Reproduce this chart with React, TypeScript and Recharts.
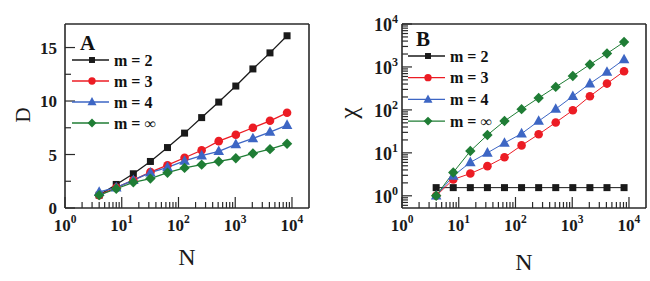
import React from 'react';
import { LineChart, Line, XAxis, YAxis, Legend } from 'recharts';

// ---- data ----
const N_VALUES = [4, 8, 16, 32, 64, 128, 256, 512, 1024, 2048, 4096, 8192];
const SERIES_NAMES = ['m = 2', 'm = 3', 'm = 4', 'm = \u221E'];

const D_M2 = [1.2, 2.2, 3.2, 4.35, 5.65, 7.0, 8.45, 9.9, 11.4, 13.0, 14.5, 16.1];
const D_M3 = [1.2, 1.9, 2.6, 3.35, 4.0, 4.7, 5.4, 6.25, 6.85, 7.5, 8.15, 8.9];
const D_M4 = [1.5, 1.9, 2.6, 3.3, 3.8, 4.4, 4.9, 5.3, 5.95, 6.5, 7.1, 7.75];
const D_MINF = [1.2, 1.8, 2.4, 2.75, 3.3, 3.75, 4.05, 4.35, 4.65, 5.1, 5.5, 6.0];

const CHI_M2 = [1.55, 1.55, 1.55, 1.55, 1.55, 1.55, 1.55, 1.55, 1.55, 1.55, 1.55, 1.55];
const CHI_M3 = [1.0, 2.4, 3.3, 4.9, 7.9, 14.9, 27, 51, 98, 208, 410, 795];
const CHI_M4 = [1.0, 2.9, 6.0, 10, 17, 28, 55, 105, 208, 410, 765, 1490];
const CHI_MINF = [1.0, 3.5, 11, 26, 55, 104, 190, 343, 617, 1140, 2050, 3800];

const X_MAJOR = [1, 10, 100, 1000, 10000];
const X_EXPONENTS = ['0', '1', '2', '3', '4'];
const D_TICKS = [0, 2.5, 5, 7.5, 10, 12.5, 15];
const D_LABELED = [0, 5, 10, 15];
const CHI_MAJOR = [1, 10, 100, 1000, 10000];
const CHI_EXPONENTS = ['0', '1', '2', '3', '4'];

const X_DOMAIN = [1, 19953];
const D_DOMAIN = [0, 17.2];
const CHI_DOMAIN = [0.52, 10000];

// ---- style ----
const KEYS = ['m2', 'm3', 'm4', 'minf'];
const COLORS: Record<string, string> = { m2: '#1a1a1a', m3: '#ec1c24', m4: '#3d66c4', minf: '#1f7d35' };
const SHAPES: Record<string, string> = { m2: 'square', m3: 'circle', m4: 'triangle', minf: 'diamond' };
const SERIF = '"Liberation Serif", "Times New Roman", serif';
const AXIS_COLOR = '#2a2a2a';

const W = 325;
const H = 281;

const leftData = N_VALUES.map((n, i) => ({ N: n, m2: D_M2[i], m3: D_M3[i], m4: D_M4[i], minf: D_MINF[i] }));
const rightData = N_VALUES.map((n, i) => ({ N: n, m2: CHI_M2[i], m3: CHI_M3[i], m4: CHI_M4[i], minf: CHI_MINF[i] }));

function logTicks(majors: number[], lo: number) {
  const out: number[] = [];
  majors.forEach((d, i) => {
    out.push(d);
    if (i < majors.length - 1) for (let k = 2; k <= 9; k++) out.push(k * d);
  });
  const below: number[] = [];
  for (let k = 2; k <= 9; k++) {
    const v = (k * majors[0]) / 10;
    if (v >= lo) below.push(v);
  }
  return [...below, ...out];
}

const X_TICKS = logTicks(X_MAJOR, 1);
const CHI_TICKS = logTicks(CHI_MAJOR, CHI_DOMAIN[0]);

function Marker({ kind, cx, cy, color, s = 1 }: any) {
  if (cx == null || cy == null) return null;
  if (kind === 'square') {
    const a = 7 * s;
    return <rect x={cx - a / 2} y={cy - a / 2} width={a} height={a} fill={color} />;
  }
  if (kind === 'circle') return <circle cx={cx} cy={cy} r={4.3 * s} fill={color} />;
  if (kind === 'triangle') {
    const w = 5.3 * s;
    return (
      <polygon
        points={`${cx},${cy - 5.8 * s} ${cx - w},${cy + 3.8 * s} ${cx + w},${cy + 3.8 * s}`}
        fill={color}
      />
    );
  }
  const r = 5.2 * s;
  return <polygon points={`${cx},${cy - r} ${cx + r},${cy} ${cx},${cy + r} ${cx - r},${cy}`} fill={color} />;
}

const dotFor = (key: string) => (p: any) => (
  <Marker key={`dot-${key}-${p.index}`} kind={SHAPES[key]} cx={p.cx} cy={p.cy} color={COLORS[key]} />
);

function XTick(props: any) {
  const { x, y, payload } = props;
  const v = payload.value;
  const mi = X_MAJOR.indexOf(v);
  const major = mi >= 0;
  return (
    <g>
      <line x1={x} x2={x} y1={y} y2={y - (major ? 11 : 6)} stroke={AXIS_COLOR} strokeWidth={1.2} />
      {major && (
        <text x={x} y={y + 23} textAnchor="middle" fontFamily={SERIF} fontWeight="bold" fill="#1a1a1a">
          <tspan fontSize={17}>10</tspan>
          <tspan fontSize={11.5} dy={-8}>{X_EXPONENTS[mi]}</tspan>
        </text>
      )}
    </g>
  );
}

function DTick(props: any) {
  const { x, y, payload } = props;
  const v = payload.value;
  const major = D_LABELED.includes(v);
  return (
    <g>
      <line x1={x} x2={x + (major ? 10 : 6)} y1={y} y2={y} stroke={AXIS_COLOR} strokeWidth={1.2} />
      {major && (
        <text x={x - 8} y={y + 6} textAnchor="end" fontFamily={SERIF} fontWeight="bold" fontSize={17} fill="#1a1a1a">
          {v}
        </text>
      )}
    </g>
  );
}

function ChiTick(props: any) {
  const { x, y, payload } = props;
  const v = payload.value;
  const mi = CHI_MAJOR.indexOf(v);
  const major = mi >= 0;
  return (
    <g>
      <line x1={x} x2={x + (major ? 10 : 6)} y1={y} y2={y} stroke={AXIS_COLOR} strokeWidth={1.2} />
      {major && (
        <text x={x - 4} y={y + 7} textAnchor="end" fontFamily={SERIF} fontWeight="bold" fill="#1a1a1a">
          <tspan fontSize={18}>10</tspan>
          <tspan fontSize={12} dy={-8}>{CHI_EXPONENTS[mi]}</tspan>
        </text>
      )}
    </g>
  );
}

function AxisTitle({ viewBox, text, dx = 0, dy = 0, rotate = false, size = 22 }: any) {
  if (!viewBox) return null;
  const cx = rotate ? viewBox.x + viewBox.width + dx : viewBox.x + viewBox.width / 2 + dx;
  const cy = rotate ? viewBox.y + viewBox.height / 2 + dy : viewBox.y + dy;
  return (
    <text
      x={cx}
      y={cy}
      textAnchor="middle"
      dominantBaseline={rotate ? 'central' : 'alphabetic'}
      transform={rotate ? `rotate(-90 ${cx} ${cy})` : undefined}
      fontFamily={SERIF}
      fontSize={size}
      fill="#1a1a1a"
    >
      {text}
    </text>
  );
}

function LegendBox({ payload, letter, rowGap }: any) {
  const items = KEYS.map((k, i) => ({ key: k, name: SERIES_NAMES[i] }));
  const names = (payload || []).map((p: any) => p.dataKey);
  const ordered = items.filter((it) => names.length === 0 || names.includes(it.key));
  return (
    <svg width={110} height={120} style={{ display: 'block', overflow: 'visible' }}>
      <text x={8} y={20} fontFamily={SERIF} fontWeight="bold" fontSize={21} fill="#111">
        {letter}
      </text>
      {ordered.map((it: any, i: number) => {
        const cy = 30 + i * rowGap;
        return (
          <g key={it.key}>
            <line x1={0} x2={37} y1={cy} y2={cy} stroke={COLORS[it.key]} strokeWidth={1.3} />
            <Marker kind={SHAPES[it.key]} cx={20} cy={cy} color={COLORS[it.key]} s={0.85} />
            <text x={42} y={cy + 5.5} fontFamily={SERIF} fontWeight="bold" fontSize={16} fill="#111">
              {it.name}
            </text>
          </g>
        );
      })}
    </svg>
  );
}

function Panel({ data, yDomain, yTicks, yScale, yTick, yTitle, yTitleDx, yTitleDy, ySize, margin, letter, legendPos, rowGap, xTitleDy, lineWidth }: any) {
  const axisLine = { stroke: AXIS_COLOR, strokeWidth: 1.6 };
  return (
    <LineChart width={W} height={H} data={data} margin={margin}>
      <XAxis
        dataKey="N"
        type="number"
        scale="log"
        domain={X_DOMAIN}
        allowDataOverflow
        ticks={X_TICKS}
        interval={0}
        height={1}
        tickSize={0}
        tickMargin={0}
        tickLine={false}
        tick={XTick}
        axisLine={axisLine}
        label={<AxisTitle text="N" dy={xTitleDy} size={24} />}
      />
      <XAxis
        xAxisId="top"
        orientation="top"
        dataKey="N"
        type="number"
        scale="log"
        domain={X_DOMAIN}
        allowDataOverflow
        ticks={X_MAJOR}
        height={1}
        tick={false}
        tickLine={false}
        axisLine={axisLine}
      />
      <YAxis
        type="number"
        scale={yScale}
        domain={yDomain}
        allowDataOverflow
        ticks={yTicks}
        interval={0}
        width={1}
        tickSize={0}
        tickMargin={0}
        tickLine={false}
        tick={yTick}
        axisLine={axisLine}
        label={<AxisTitle text={yTitle} rotate dx={yTitleDx} dy={yTitleDy} size={ySize} />}
      />
      <YAxis
        yAxisId="right"
        orientation="right"
        type="number"
        scale={yScale}
        domain={yDomain}
        allowDataOverflow
        ticks={yTicks}
        width={1}
        tick={false}
        tickLine={false}
        axisLine={axisLine}
      />
      <Legend
        layout="vertical"
        align="center"
        verticalAlign="middle"
        wrapperStyle={{ left: legendPos[0], top: legendPos[1], width: 110, height: 120 }}
        content={(p: any) => <LegendBox payload={p.payload} letter={letter} rowGap={rowGap} />}
      />
      {KEYS.map((k, i) => (
        <Line
          key={k}
          dataKey={k}
          name={SERIES_NAMES[i]}
          stroke={COLORS[k]}
          strokeWidth={lineWidth}
          dot={dotFor(k)}
          activeDot={false}
          isAnimationActive={false}
        />
      ))}
    </LineChart>
  );
}

export default function App() {
  return (
    <div style={{ position: 'absolute', left: 0, top: 0, width: 650, height: 281, background: '#fff' }}>
      <div style={{ position: 'absolute', left: 0, top: 0 }}>
        <Panel
          data={leftData}
          yDomain={D_DOMAIN}
          yTicks={D_TICKS}
          yScale="linear"
          yTick={DTick}
          yTitle="D"
          yTitleDx={-42}
          yTitleDy={-1}
          ySize={21}
          margin={{ top: 23, left: 64, right: 15, bottom: 72 }}
          letter="A"
          legendPos={[72, 30]}
          rowGap={21}
          xTitleDy={57}
          lineWidth={1.3}
        />
      </div>
      <div style={{ position: 'absolute', left: 325, top: 0 }}>
        <Panel
          data={rightData}
          yDomain={CHI_DOMAIN}
          yTicks={CHI_TICKS}
          yScale="log"
          yTick={ChiTick}
          yTitle={'\u03C7'}
          yTitleDx={-54}
          yTitleDy={-3}
          ySize={26}
          margin={{ top: 23, left: 76, right: 3, bottom: 72 }}
          letter="B"
          legendPos={[83, 26]}
          rowGap={21.7}
          xTitleDy={62}
          lineWidth={1}
        />
      </div>
    </div>
  );
}
